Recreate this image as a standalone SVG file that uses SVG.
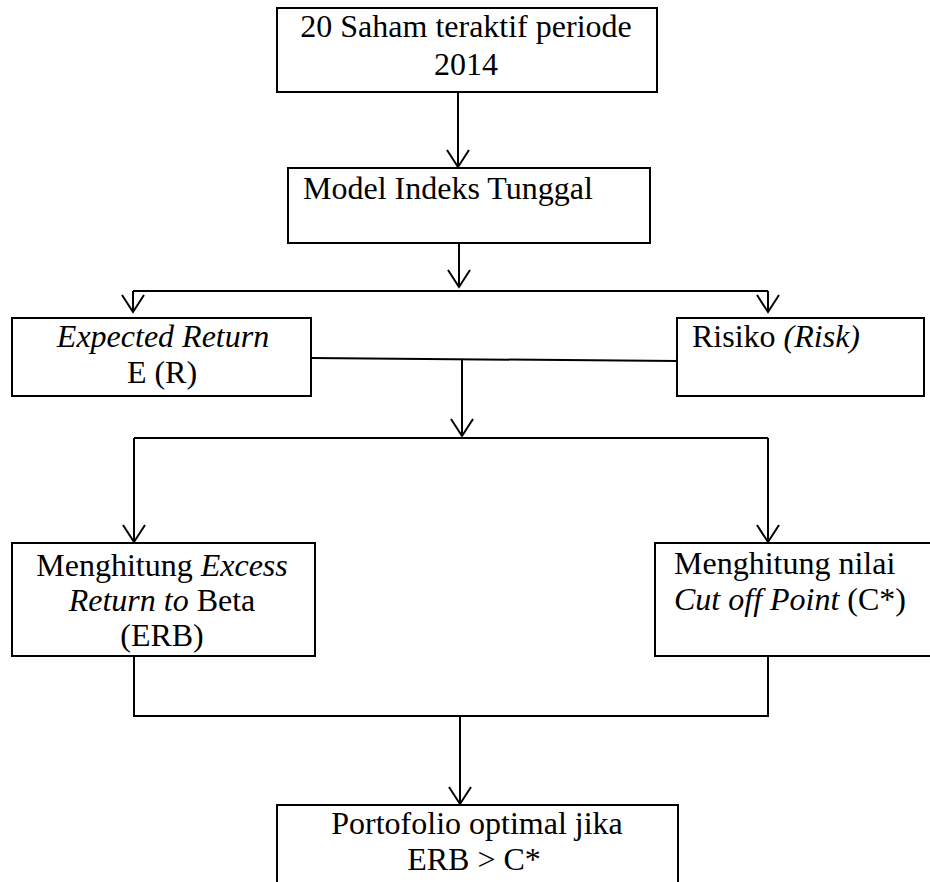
<svg xmlns="http://www.w3.org/2000/svg" width="930" height="882" viewBox="0 0 930 882">
  <style>
    .box { fill: #fff; stroke: #000; stroke-width: 2; }
    .ln { fill: none; stroke: #000; stroke-width: 2; }
    .t { font-family: "Liberation Serif", "Times New Roman", serif; font-size: 32px; fill: #000; }
    .c { text-anchor: middle; }
    .i { font-style: italic; }
  </style>
  <defs>
    <marker id="arr" markerUnits="userSpaceOnUse" orient="auto" refX="0" refY="0" markerWidth="24" markerHeight="26" viewBox="-20 -13 24 26" overflow="visible">
      <path d="M-17,-11 L0,0 L-17,11" fill="none" stroke="#000" stroke-width="2"/>
    </marker>
  </defs>
  <rect width="930" height="882" fill="#fff"/>

  <g id="connectors">
    <path class="ln" d="M458,92 V167" marker-end="url(#arr)"/>
    <path class="ln" d="M459,243 V287" marker-end="url(#arr)"/>
    <path class="ln" d="M133,291 H768"/>
    <path class="ln" d="M133,291 V312" marker-end="url(#arr)"/>
    <path class="ln" d="M768,291 V312" marker-end="url(#arr)"/>
    <path class="ln" d="M311,358 L677,361"/>
    <path class="ln" d="M462,359 V436" marker-end="url(#arr)"/>
    <path class="ln" d="M134,438 H768"/>
    <path class="ln" d="M134,438 V542" marker-end="url(#arr)"/>
    <path class="ln" d="M768,438 V542" marker-end="url(#arr)"/>
    <path class="ln" d="M134,656 V716 H768 V656"/>
    <path class="ln" d="M460,716 V804" marker-end="url(#arr)"/>
  </g>

  <g id="node-saham">
    <rect class="box" x="277" y="8" width="380" height="84"/>
    <text class="t c" x="466" y="37">20 Saham teraktif periode</text>
    <text class="t c" x="466" y="75">2014</text>
  </g>

  <g id="node-model">
    <rect class="box" x="288" y="168" width="362" height="75"/>
    <text class="t" x="303" y="199">Model Indeks Tunggal</text>
  </g>

  <g id="node-expected">
    <rect class="box" x="12" y="318" width="299" height="78"/>
    <text class="t c i" x="163" y="347">Expected Return</text>
    <text class="t c" x="162" y="383">E (R)</text>
  </g>

  <g id="node-risiko">
    <rect class="box" x="677" y="318" width="247" height="78"/>
    <text class="t" x="692" y="347">Risiko <tspan class="i">(Risk)</tspan></text>
  </g>

  <g id="node-erb">
    <rect class="box" x="12" y="543" width="303" height="113"/>
    <text class="t c" x="162" y="576">Menghitung <tspan class="i">Excess</tspan></text>
    <text class="t c" x="162" y="611"><tspan class="i">Return to</tspan> Beta</text>
    <text class="t c" x="162" y="646">(ERB)</text>
  </g>

  <g id="node-cutoff">
    <rect class="box" x="655" y="543" width="285" height="113"/>
    <text class="t" x="674" y="574">Menghitung nilai</text>
    <text class="t" x="674" y="610"><tspan class="i">Cut off Point</tspan> (C*)</text>
  </g>

  <g id="node-portofolio">
    <rect class="box" x="277" y="805" width="401" height="90"/>
    <text class="t c" x="477" y="834">Portofolio optimal jika</text>
    <text class="t c" x="474" y="870">ERB &gt; C*</text>
  </g>
</svg>
